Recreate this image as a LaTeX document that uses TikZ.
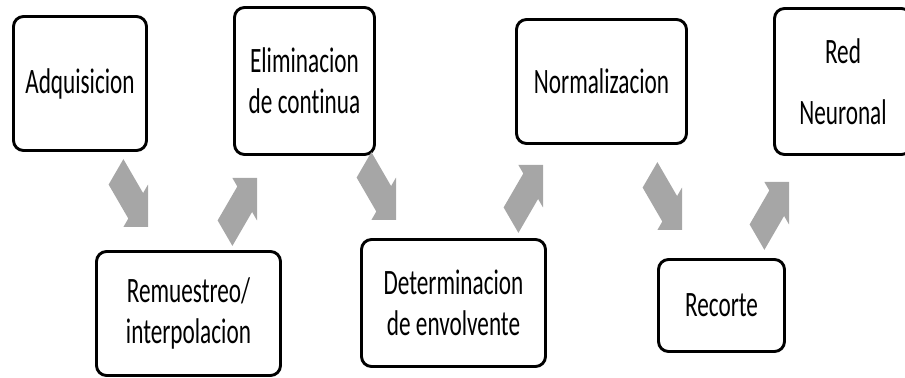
\documentclass[tikz,border=0pt]{standalone}
\usepackage{fontspec}
\setmainfont{Carlito}[FakeStretch=0.65, Ligatures=NoCommon]
\definecolor{arrowgray}{RGB}{166,166,166}
\tikzset{
    stage/.style = {draw=black, line width=2.5pt, rounded corners=0.3cm,
        align=center, inner sep=0pt, font=\fontsize{30.5}{35}\selectfont},
    blockarrow/.pic = {
        \fill[arrowgray] (0,0) -- (-0.9,0.9) -- (-0.9,0.54) -- (-2.34,0.54)
            -- (-2.34,-0.54) -- (-0.9,-0.54) -- (-0.9,-0.9) -- cycle;
    },
}
\begin{document}
\begin{tikzpicture}
\useasboundingbox (0,0) rectangle (27.15,11.34);
\clip (0,0) rectangle (27.15,11.34);

\node[stage, minimum width=3.99cm, minimum height=4.02cm] (adq) at (2.40,8.835) {Adquisicion};
\node[stage, minimum width=5.52cm, minimum height=3.72cm] (rem) at (5.655,1.935) {Remuestreo/\\interpolacion};
\node[stage, minimum width=4.20cm, minimum height=4.41cm] (elim) at (9.135,8.91) {Eliminacion\\de continua};
\node[stage, minimum width=5.52cm, minimum height=3.81cm] (det) at (13.605,2.25) {Determinacion\\de envolvente};
\node[stage, minimum width=5.10cm, minimum height=3.72cm] (norm) at (18.045,8.895) {Normalizacion};
\node[stage, minimum width=3.78cm, minimum height=2.76cm] (rec) at (21.645,2.175) {Recorte};
\node[stage, minimum width=4.11cm, minimum height=4.38cm] (red) at (25.29,8.895) {Red\\[17pt]Neuronal};

\coordinate (t1) at (4.44,4.53);
\coordinate (t2) at (7.71,6.00);
\coordinate (t3) at (11.88,4.74);
\coordinate (t4) at (16.29,6.39);
\coordinate (t5) at (20.46,4.44);
\coordinate (t6) at (23.67,5.88);

\pic[xscale=0.58, rotate=-45] at (t1) {blockarrow};
\pic[xscale=0.58, rotate=45] at (t2) {blockarrow};
\pic[xscale=0.58, rotate=-45] at (t3) {blockarrow};
\pic[xscale=0.58, rotate=45] at (t4) {blockarrow};
\pic[xscale=0.58, rotate=-45] at (t5) {blockarrow};
\pic[xscale=0.58, rotate=45] at (t6) {blockarrow};
\end{tikzpicture}
\end{document}
